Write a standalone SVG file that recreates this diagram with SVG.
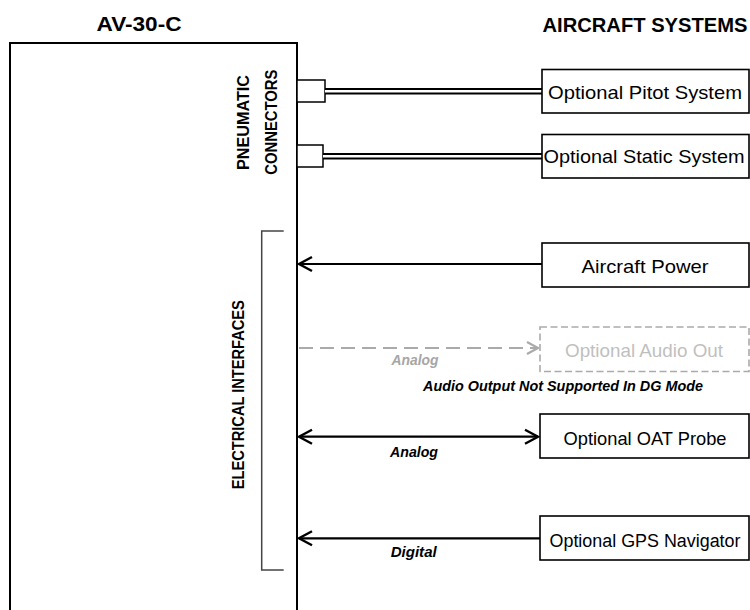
<svg xmlns="http://www.w3.org/2000/svg" width="750" height="610" viewBox="0 0 750 610">
<style>
text{font-family:"Liberation Sans",Arial,sans-serif;}
.title{font-size:20px;font-weight:bold;fill:#000;}
.vlabel{font-size:16px;font-weight:bold;fill:#000;text-anchor:middle;}
.box{fill:#fff;stroke:#000;stroke-width:1.6;}
.lbl{font-size:19px;fill:#000;text-anchor:middle;}
.ital{font-size:14px;font-weight:bold;font-style:italic;fill:#000;}
.wire{stroke:#000;stroke-width:2.2;fill:none;}
</style>
<defs>
<marker id="arr" markerUnits="userSpaceOnUse" markerWidth="20" markerHeight="20" viewBox="-16 -10 20 20" refX="0" refY="0" orient="auto-start-reverse" overflow="visible">
<path d="M-13,-7 L0,0 L-13,7" fill="none" stroke="#000" stroke-width="2.4"/>
</marker>
<marker id="arrg" markerUnits="userSpaceOnUse" markerWidth="20" markerHeight="20" viewBox="-16 -10 20 20" refX="0" refY="0" orient="auto" overflow="visible">
<path d="M-11,-6 L0,0 L-11,6" fill="none" stroke="#aaaaaa" stroke-width="2.2"/>
</marker>
</defs>
<rect width="750" height="610" fill="#fff"/>

<g id="av30">
<path d="M10,612 V43 H297 V612" fill="none" stroke="#000" stroke-width="2"/>
<text class="title" x="139" y="30.5" text-anchor="middle" textLength="85" lengthAdjust="spacingAndGlyphs">AV-30-C</text>
<text class="vlabel" transform="translate(249.3,122.5) rotate(-90)" textLength="95" lengthAdjust="spacingAndGlyphs">PNEUMATIC</text>
<text class="vlabel" transform="translate(276.5,122.2) rotate(-90)" textLength="105" lengthAdjust="spacingAndGlyphs">CONNECTORS</text>
<path d="M283.7,231 H261.7 V570 H283.7" fill="none" stroke="#444" stroke-width="1.5"/>
<text class="vlabel" transform="translate(244.3,394.7) rotate(-90)" textLength="189" lengthAdjust="spacingAndGlyphs">ELECTRICAL INTERFACES</text>
<rect x="297" y="80" width="28" height="22" fill="#fff" stroke="#000" stroke-width="1.5"/>
<rect x="297" y="145" width="26" height="22" fill="#fff" stroke="#000" stroke-width="1.5"/>
</g>

<text class="title" x="542.5" y="31.5" textLength="205" lengthAdjust="spacingAndGlyphs">AIRCRAFT SYSTEMS</text>

<g id="connectors">
<line x1="325" y1="91.3" x2="542" y2="91.3" stroke="#000" stroke-width="6.5"/>
<line x1="325" y1="91.3" x2="542" y2="91.3" stroke="#fff" stroke-width="2.4"/>
<line x1="323" y1="156.3" x2="542" y2="156.3" stroke="#000" stroke-width="6.5"/>
<line x1="323" y1="156.3" x2="542" y2="156.3" stroke="#fff" stroke-width="2.4"/>
<line class="wire" x1="542" y1="264" x2="299" y2="264" marker-end="url(#arr)"/>
<line x1="299" y1="348" x2="538" y2="348" stroke="#aaaaaa" stroke-width="2.2" stroke-dasharray="14 7" fill="none" marker-end="url(#arrg)"/>
<line class="wire" x1="299" y1="436.7" x2="538" y2="436.7" marker-start="url(#arr)" marker-end="url(#arr)"/>
<line class="wire" x1="540" y1="538.3" x2="299" y2="538.3" marker-end="url(#arr)"/>
<text class="ital" x="415" y="365" text-anchor="middle" style="fill:#a6a6a6" textLength="47" lengthAdjust="spacingAndGlyphs">Analog</text>
<text class="ital" x="563" y="390.7" text-anchor="middle" textLength="280" lengthAdjust="spacingAndGlyphs">Audio Output Not Supported In DG Mode</text>
<text class="ital" x="414" y="456.7" text-anchor="middle" textLength="48" lengthAdjust="spacingAndGlyphs">Analog</text>
<text class="ital" x="413.7" y="556.7" text-anchor="middle" textLength="46" lengthAdjust="spacingAndGlyphs">Digital</text>
</g>

<g id="pitot">
<rect class="box" x="542" y="69.5" width="207" height="43.5"/>
<text class="lbl" x="645" y="99" textLength="194" lengthAdjust="spacingAndGlyphs">Optional Pitot System</text>
</g>
<g id="static">
<rect class="box" x="542" y="134.5" width="207" height="43.5"/>
<text class="lbl" x="644" y="163" textLength="201" lengthAdjust="spacingAndGlyphs">Optional Static System</text>
</g>
<g id="power">
<rect class="box" x="542" y="243" width="207" height="44"/>
<text class="lbl" x="645" y="272.5" textLength="127" lengthAdjust="spacingAndGlyphs">Aircraft Power</text>
</g>
<g id="audio">
<rect x="540" y="327" width="209" height="44.5" fill="#fff" stroke="#aaaaaa" stroke-width="1.6" stroke-dasharray="7 3.5"/>
<text class="lbl" x="644" y="356.5" style="fill:#bfbfbf" textLength="158" lengthAdjust="spacingAndGlyphs">Optional Audio Out</text>
</g>
<g id="oat">
<rect class="box" x="540" y="414" width="209" height="44"/>
<text class="lbl" x="645" y="445" textLength="163" lengthAdjust="spacingAndGlyphs">Optional OAT Probe</text>
</g>
<g id="gps">
<rect class="box" x="540" y="516" width="209" height="44"/>
<text class="lbl" x="645" y="546.5" style="font-size:18px" textLength="191" lengthAdjust="spacingAndGlyphs">Optional GPS Navigator</text>
</g>
</svg>
